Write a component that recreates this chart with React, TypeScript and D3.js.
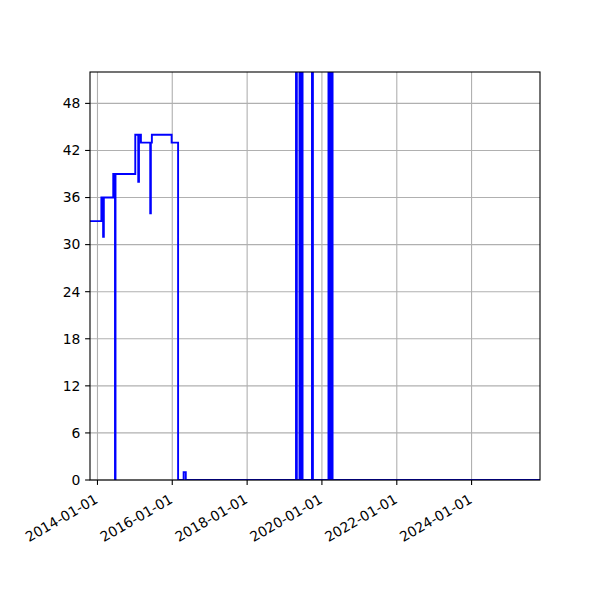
import { useEffect, useRef } from 'react';
import * as d3 from 'd3';

// step series (steps-post): date of change, value from that date on
const changeDates = [
  '2013-10-20', '2014-02-08', '2014-02-25', '2014-03-04', '2014-06-04',
  '2014-06-21', '2014-06-26', '2015-01-05', '2015-02-03', '2015-02-10',
  '2015-03-01', '2015-05-31', '2015-06-06', '2015-06-16', '2015-12-26',
  '2016-02-27', '2016-04-21', '2016-05-12', '2019-04-23', '2019-05-01',
  '2019-05-27', '2019-06-03', '2019-06-17', '2019-06-26', '2019-09-26',
  '2019-10-05', '2020-03-05', '2020-03-12', '2020-03-20', '2020-03-28',
  '2020-04-05', '2020-04-14', '2025-10-30',
];
const values = [
  33, 36, 31, 36, 39,
  0, 39, 44, 38, 44,
  43, 34, 43, 44, 43,
  0, 1, 0, 60, 0,
  60, 0, 60, 0, 60,
  0, 60, 0, 60, 0,
  60, 0, 0,
];
const xTicks = ['2014-01-01', '2016-01-01', '2018-01-01', '2020-01-01', '2022-01-01', '2024-01-01'];
const yTicks = [0, 6, 12, 18, 24, 30, 36, 42, 48];
const xDomain = ['2013-10-20', '2025-10-30'];
const yDomain = [0, 52];

export default function App() {
  const svgRef = useRef<SVGSVGElement>(null);
  const width = 600;
  const height = 600;

  useEffect(() => {
    if (!svgRef.current) return;
    const svg = d3.select(svgRef.current);
    svg.selectAll('*').remove();

    const margin = { top: 72, right: 60, bottom: 120, left: 90 };
    const innerWidth = width - margin.left - margin.right;
    const innerHeight = height - margin.top - margin.bottom;
    const parse = d3.utcParse('%Y-%m-%d');

    const x = d3
      .scaleUtc()
      .domain(xDomain.map((d) => parse(d) as Date))
      .range([0, innerWidth]);
    const y = d3.scaleLinear().domain(yDomain).range([innerHeight, 0]);

    const g = svg
      .append('g')
      .attr('transform', `translate(${margin.left},${margin.top})`);

    svg
      .append('defs')
      .append('clipPath')
      .attr('id', 'plot-clip')
      .append('rect')
      .attr('width', innerWidth)
      .attr('height', innerHeight);

    // grid
    g.selectAll('line.xgrid')
      .data(xTicks)
      .join('line')
      .attr('class', 'xgrid')
      .attr('x1', (d) => x(parse(d) as Date))
      .attr('x2', (d) => x(parse(d) as Date))
      .attr('y1', 0)
      .attr('y2', innerHeight)
      .attr('stroke', '#b0b0b0')
      .attr('stroke-width', 1.1);

    g.selectAll('line.ygrid')
      .data(yTicks)
      .join('line')
      .attr('class', 'ygrid')
      .attr('x1', 0)
      .attr('x2', innerWidth)
      .attr('y1', (d) => y(d))
      .attr('y2', (d) => y(d))
      .attr('stroke', '#b0b0b0')
      .attr('stroke-width', 1.1);

    // step line
    const points = changeDates.map((d, i) => ({ date: parse(d) as Date, value: values[i] }));
    const line = d3
      .line<{ date: Date; value: number }>()
      .x((d) => x(d.date))
      .y((d) => y(d.value))
      .curve(d3.curveStepAfter);

    g.append('path')
      .datum(points)
      .attr('clip-path', 'url(#plot-clip)')
      .attr('d', line)
      .attr('fill', 'none')
      .attr('stroke', '#0000ff')
      .attr('stroke-width', 1.9)
      .attr('stroke-linejoin', 'miter');

    // frame
    g.append('rect')
      .attr('width', innerWidth)
      .attr('height', innerHeight)
      .attr('fill', 'none')
      .attr('stroke', '#000')
      .attr('stroke-width', 1.1);

    // x ticks
    const xt = g
      .selectAll('g.xtick')
      .data(xTicks)
      .join('g')
      .attr('class', 'xtick')
      .attr('transform', (d) => `translate(${x(parse(d) as Date)},${innerHeight})`);
    xt.append('line').attr('y2', 4.9).attr('stroke', '#000').attr('stroke-width', 1.1);
    xt.append('text')
      .attr('transform', 'translate(1.5,22) rotate(-30)')
      .attr('text-anchor', 'end')
      .attr('font-family', 'DejaVu Sans')
      .attr('font-size', 13.9)
      .attr('fill', '#000')
      .text((d) => d);

    // y ticks
    const yt = g
      .selectAll('g.ytick')
      .data(yTicks)
      .join('g')
      .attr('class', 'ytick')
      .attr('transform', (d) => `translate(0,${y(d)})`);
    yt.append('line').attr('x2', -4.9).attr('stroke', '#000').attr('stroke-width', 1.1);
    yt.append('text')
      .attr('x', -9.7)
      .attr('dy', '0.35em')
      .attr('text-anchor', 'end')
      .attr('font-family', 'DejaVu Sans')
      .attr('font-size', 13.9)
      .attr('fill', '#000')
      .text((d) => d);
  }, []);

  return <svg ref={svgRef} width={width} height={height} style={{ display: 'block', margin: -8 }} />;
}
